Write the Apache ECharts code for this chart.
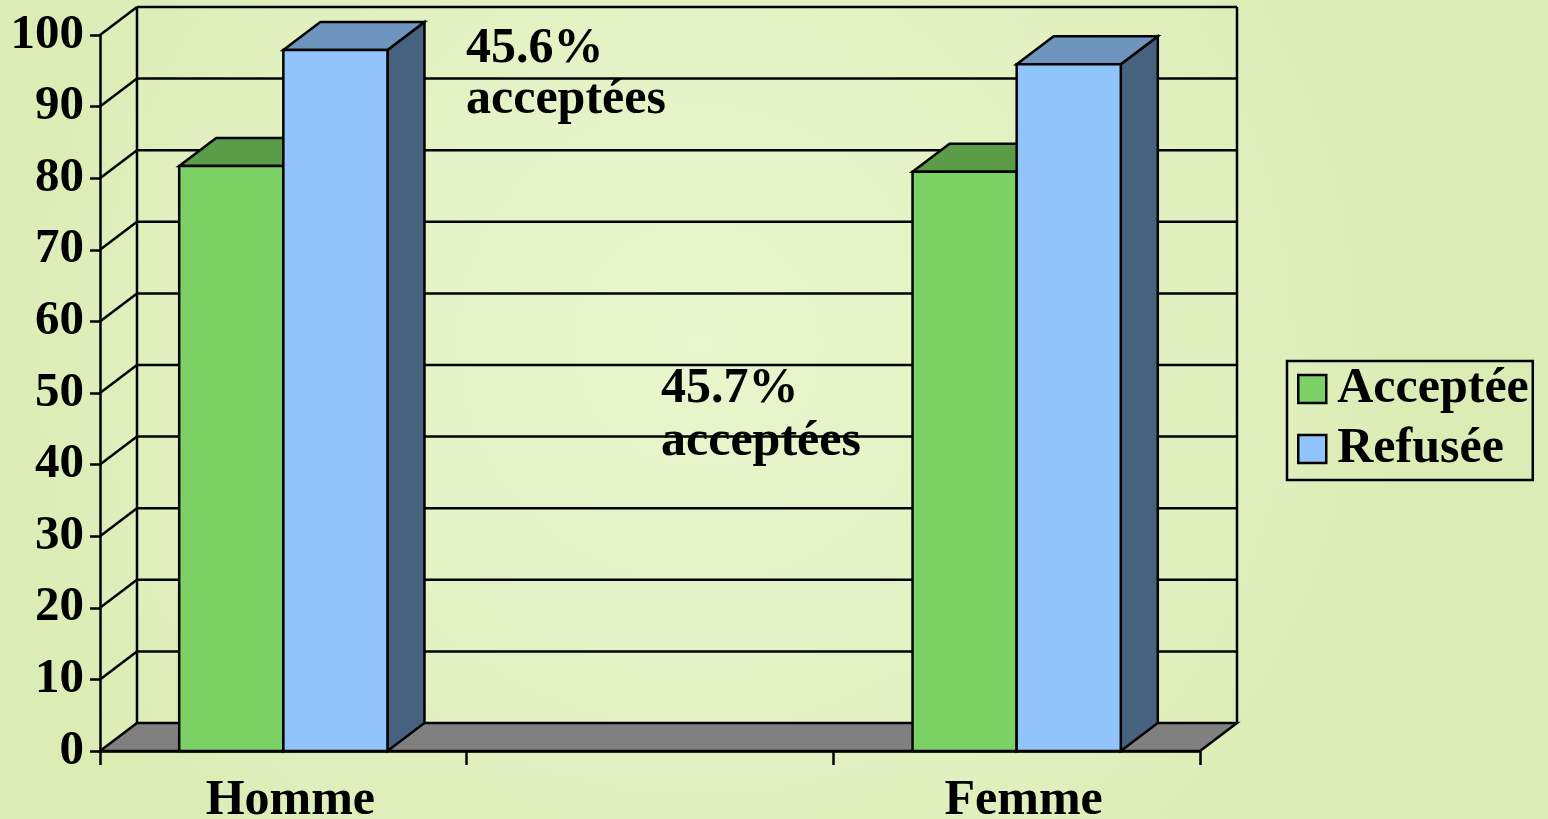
<!DOCTYPE html>
<html><head><meta charset="utf-8">
<script src="https://cdn.jsdelivr.net/npm/echarts@6/dist/echarts.min.js"></script>
<style>html,body{margin:0;padding:0;}#c{width:1548px;height:819px;}</style>
</head><body><div id="c"></div>
<script>
const categories = ['Homme', '', 'Femme'];
const seriesNames = ['Acceptée', 'Refusée'];
const acceptee = [81.7, null, 80.9];
const refusee = [97.9, null, 95.9];
const yTicks = [0, 10, 20, 30, 40, 50, 60, 70, 80, 90, 100];
const note1 = ['45.6%', 'acceptées'];
const note2 = ['45.7%', 'acceptées'];

const DX = 37, DY = -28;
const FONT = '"Liberation Serif","Times New Roman",serif';
const LINE = '#000';
const LW = 2.5;
const palAcc = {front: '#7bd163', top: '#5a9c48', side: '#4a7f3a'};
const palRef = {front: '#91c4f8', top: '#6e95bd', side: '#47627e'};
const BAR_FRAC = 0.284;

function toPairs(arr) {
  const out = [];
  arr.forEach((v, i) => { if (v != null) out.push([i, v]); });
  return out;
}

function barRender(side, pal) {
  return function (params, api) {
    const idx = api.value(0), v = api.value(1);
    const top = api.coord([idx, v]);
    const base = api.coord([idx, 0]);
    const band = api.size([1, 0])[0];
    const w = band * BAR_FRAC;
    const x0 = side === 0 ? top[0] - w : top[0];
    const x1 = x0 + w;
    const yt = top[1], yb = base[1];
    const st = (fill) => ({fill: fill, stroke: LINE, lineWidth: LW, lineJoin: 'miter'});
    return {type: 'group', children: [
      {type: 'polygon', shape: {points: [[x1, yt], [x1 + DX, yt + DY], [x1 + DX, yb + DY], [x1, yb]]}, style: st(pal.side)},
      {type: 'polygon', shape: {points: [[x0, yt], [x1, yt], [x1 + DX, yt + DY], [x0 + DX, yt + DY]]}, style: st(pal.top)},
      {type: 'rect', shape: {x: x0, y: yt, width: w, height: yb - yt}, style: st(pal.front)}
    ]};
  };
}

function wallRender(params, api) {
  const v = api.value(1);
  const cs = params.coordSys;
  const y = api.coord([0, v])[1];
  const xl = cs.x, xr = cs.x + cs.width;
  const ls = {stroke: LINE, lineWidth: LW};
  const children = [];
  if (v === yTicks[0]) {
    const yTop = api.coord([0, yTicks[yTicks.length - 1]])[1];
    children.push({type: 'line', shape: {x1: xl + DX, y1: y + DY, x2: xl + DX, y2: yTop + DY}, style: ls});
    children.push({type: 'line', shape: {x1: xr + DX, y1: y + DY, x2: xr + DX, y2: yTop + DY}, style: ls});
    children.push({type: 'polygon', shape: {points: [[xl, y], [xr, y], [xr + DX, y + DY], [xl + DX, y + DY]]},
      style: {fill: '#808080', stroke: LINE, lineWidth: LW}});
  } else {
    children.push({type: 'line', shape: {x1: xl + DX, y1: y + DY, x2: xr + DX, y2: y + DY}, style: ls});
    children.push({type: 'line', shape: {x1: xl, y1: y, x2: xl + DX, y2: y + DY}, style: ls});
  }
  return {type: 'group', children: children};
}

const chart = echarts.init(document.getElementById('c'), null, {renderer: 'canvas'});
chart.setOption({
  animation: false,
  backgroundColor: {type: 'radial', x: 0.45, y: 0.42, r: 0.9,
    colorStops: [{offset: 0, color: '#e9f5cc'}, {offset: 0.6, color: '#e3f1c2'}, {offset: 1, color: '#dbecb4'}]},
  grid: {left: 100, top: 35, width: 1100, height: 716, containLabel: false, outerBoundsMode: 'none'},
  xAxis: {
    type: 'category', data: categories, boundaryGap: true,
    axisLine: {show: true, lineStyle: {color: LINE, width: LW}},
    axisTick: {show: true, length: 14, interval: 0, lineStyle: {color: LINE, width: LW}},
    axisLabel: {interval: 0, margin: 25, color: '#000', fontFamily: FONT, fontWeight: 'bold', fontSize: 50, padding: [0, 0, 0, 14]},
    splitLine: {show: false}
  },
  yAxis: {
    type: 'value', min: 0, max: 100, interval: 10,
    axisLine: {show: true, lineStyle: {color: LINE, width: LW}},
    axisTick: {show: true, length: 10, lineStyle: {color: LINE, width: LW}},
    axisLabel: {margin: 16, color: '#000', fontFamily: FONT, fontWeight: 'bold', fontSize: 49, padding: [4, 0, 0, 0]},
    splitLine: {show: false}
  },
  legend: {
    data: seriesNames, orient: 'vertical', left: 1287, top: 361,
    borderColor: '#000', borderWidth: 2.5, padding: [3, 4, 6, 10], itemGap: 10,
    itemWidth: 28, itemHeight: 28, icon: 'rect',
    itemStyle: {borderColor: '#000', borderWidth: 2.5},
    textStyle: {color: '#000', fontFamily: FONT, fontWeight: 'bold', fontSize: 50, padding: [3, 0, 0, 6]}
  },
  graphic: [
    {type: 'text', left: 466, top: 24, z: 100,
      style: {text: note1.join('\n'), font: 'bold 50px ' + FONT, fill: '#000', lineHeight: 51}},
    {type: 'text', left: 661, top: 363, z: 100,
      style: {text: note2.join('\n'), font: 'bold 50px ' + FONT, fill: '#000', lineHeight: 53}}
  ],
  series: [
    {type: 'custom', name: 'wall', coordinateSystem: 'cartesian2d', z: 1, silent: true,
      data: yTicks.map(v => [0, v]), renderItem: wallRender, encode: {x: 0, y: 1}},
    {type: 'custom', name: seriesNames[0], coordinateSystem: 'cartesian2d', z: 3,
      itemStyle: {color: palAcc.front}, data: toPairs(acceptee), renderItem: barRender(0, palAcc), encode: {x: 0, y: 1}},
    {type: 'custom', name: seriesNames[1], coordinateSystem: 'cartesian2d', z: 4,
      itemStyle: {color: palRef.front}, data: toPairs(refusee), renderItem: barRender(1, palRef), encode: {x: 0, y: 1}}
  ]
});
</script>
</body></html>
